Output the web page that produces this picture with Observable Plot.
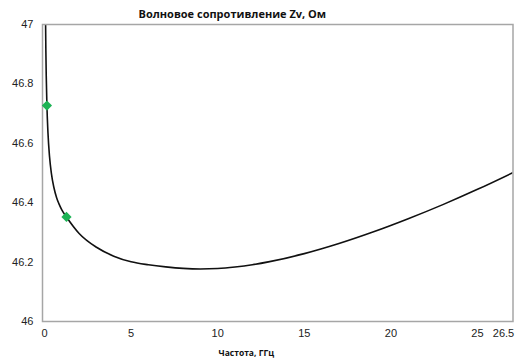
<!DOCTYPE html>
<html>
<head>
<meta charset="utf-8">
<script src="https://cdn.jsdelivr.net/npm/d3@7"></script>
<script src="https://cdn.jsdelivr.net/npm/@observablehq/plot@0.6"></script>
<style>
  html, body { margin: 0; padding: 0; background: #fff; }
  #chart svg { display: block; }
</style>
</head>
<body>
<div id="chart"></div>
<script>
const title = "Волновое сопротивление Zv, Ом";
const xTitle = "Частота, ГГц";
const xTicks = [0, 5, 10, 15, 20, 25, 26.5];
const yTicks = [46, 46.2, 46.4, 46.6, 46.8, 47];

// curve: frequency (GHz) and impedance (Ohm)
const freq = [0.045, 0.06, 0.08, 0.1, 0.14, 0.2, 0.29, 0.4, 0.54, 0.7, 0.83, 1.0, 1.27, 2, 3, 4, 5, 6, 7, 8, 9, 10, 11, 12, 13, 15, 17, 19, 21, 23, 25, 27, 27.05];
const zv   = [47.156, 47.023, 46.909, 46.83, 46.727, 46.636, 46.556, 46.498, 46.452, 46.417, 46.397, 46.376, 46.352, 46.2965, 46.25, 46.22, 46.201, 46.191, 46.184, 46.179, 46.177, 46.1785, 46.1835, 46.191, 46.2015, 46.2285, 46.2625, 46.302, 46.346, 46.3935, 46.445, 46.5, 46.5014];

// marked points
const markFreq = [0.14, 1.27];
const markZv = [46.727, 46.352];

const curve = freq.map((f, i) => ({f, z: zv[i]}));
const marks = markFreq.map((f, i) => ({f, z: markZv[i]}));

const chart = Plot.plot({
  width: 521,
  height: 358,
  marginLeft: 42,
  marginRight: 8.5,
  marginTop: 24,
  marginBottom: 37,
  style: {fontFamily: "'Liberation Sans', Arial, sans-serif", fontSize: "11px", color: "#222", background: "#fff"},
  x: {domain: [-0.115, 27.05], label: null},
  y: {domain: [46, 47], label: null},
  marks: [
    Plot.axisX({ticks: xTicks, tickSize: 0, tickPadding: 8, tickFormat: d => String(d), fontSize: 11, fill: "#222"}),
    Plot.axisY({ticks: yTicks, tickSize: 0, tickPadding: 9, tickFormat: d => String(+d.toFixed(1)), fontSize: 11, fill: "#222"}),
    Plot.line(curve, {x: "f", y: "z", stroke: "#111", strokeWidth: 1.6, curve: "monotone-x", clip: true}),
    Plot.frame({stroke: "#a6a6a6", strokeWidth: 1.5}),
    Plot.dot(marks, {x: "f", y: "z", symbol: "diamond2", r: 4.6, fill: "#1db355", stroke: "none"}),
    Plot.text([title], {frameAnchor: "top-left", dx: 96, dy: -10, text: d => d, textAnchor: "start", lineAnchor: "middle", fontFamily: "'Open Sans', sans-serif", fontWeight: 700, fontSize: 11, fill: "#111"}),
    Plot.text([xTitle], {frameAnchor: "bottom-left", dx: 176, dy: 32, text: d => d, textAnchor: "start", lineAnchor: "middle", fontFamily: "'Open Sans', sans-serif", fontWeight: 700, fontSize: 8.5, fill: "#111"})
  ]
});
document.getElementById("chart").append(chart);
</script>
</body>
</html>
